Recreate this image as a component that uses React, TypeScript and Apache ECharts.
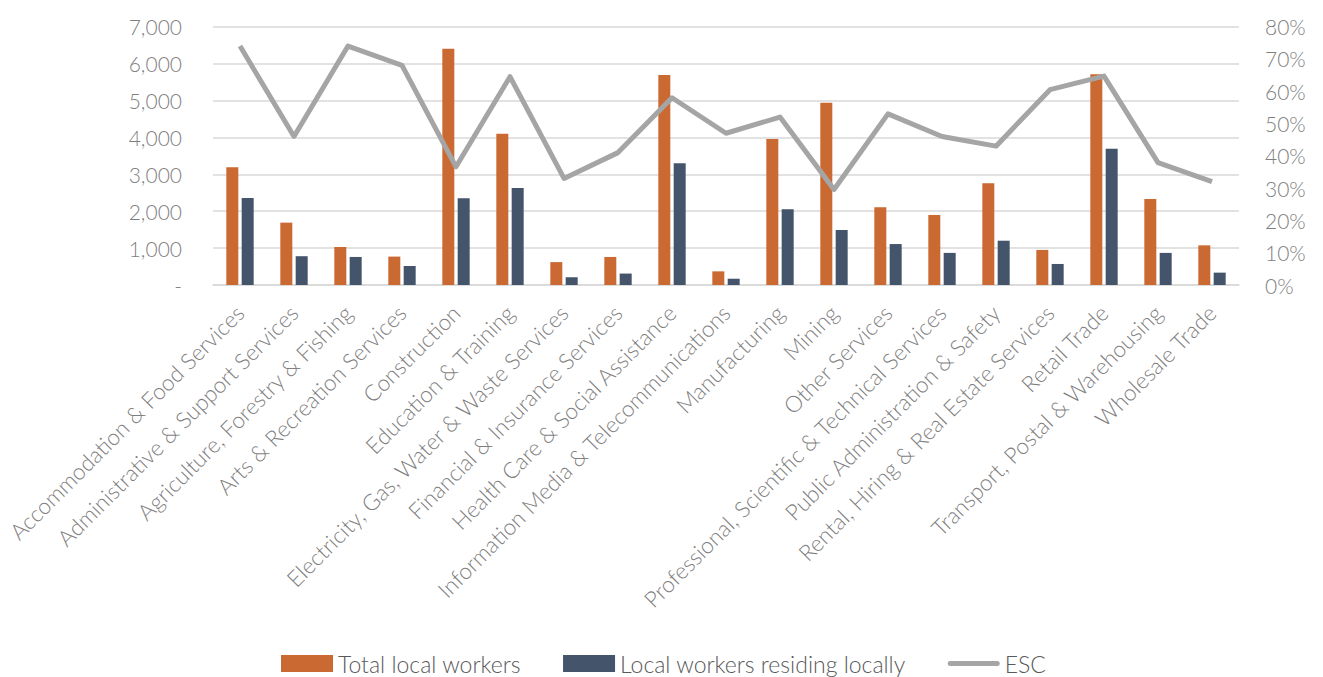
import React, { useEffect, useRef } from "react";
import * as echarts from "echarts";

const categories = [
  "Accommodation & Food Services",
  "Administrative & Support Services",
  "Agriculture, Forestry & Fishing",
  "Arts & Recreation Services",
  "Construction",
  "Education & Training",
  "Electricity, Gas, Water & Waste Services",
  "Financial & Insurance Services",
  "Health Care & Social Assistance",
  "Information Media & Telecommunications",
  "Manufacturing",
  "Mining",
  "Other Services",
  "Professional, Scientific & Technical Services",
  "Public Administration & Safety",
  "Rental, Hiring & Real Estate Services",
  "Retail Trade",
  "Transport, Postal & Warehousing",
  "Wholesale Trade",
];

const totalLocalWorkers = [3190, 1690, 1030, 770, 6400, 4100, 620, 760, 5690, 370, 3960, 4940, 2110, 1900, 2760, 950, 5710, 2330, 1075];
const localResiding = [2360, 780, 760, 515, 2350, 2630, 210, 310, 3300, 170, 2050, 1490, 1110, 870, 1200, 570, 3690, 870, 335];
const esc = [0.74, 0.46, 0.74, 0.68, 0.366, 0.645, 0.33, 0.41, 0.58, 0.47, 0.52, 0.296, 0.53, 0.46, 0.43, 0.605, 0.647, 0.379, 0.32];

const FONT = "Lato";
const LINE_ICON =
  "path://M0,0 L0,0 M52,17 L52,17 M2.5,6 L49.5,6 A2.5,2.5 0 0 1 49.5,11 L2.5,11 A2.5,2.5 0 0 1 2.5,6 Z";

export default function App() {
  const ref = useRef<HTMLDivElement>(null);
  useEffect(() => {
    if (!ref.current) return;
    const chart = echarts.init(ref.current, undefined, { renderer: "svg" });
    chart.setOption({
      animation: false,
      textStyle: { fontFamily: FONT, fontWeight: 300 },
      grid: { left: 213, right: 84, top: 26.7, bottom: 392, containLabel: false },
      legend: {
        top: 652,
        left: 281,
        itemWidth: 52,
        itemHeight: 17,
        itemGap: 42,
        padding: 0,
        textStyle: { fontSize: 23, lineHeight: 23, color: "#595959", fontFamily: FONT, fontWeight: 300 },
        data: [
          { name: "Total local workers", icon: "rect" },
          { name: "Local workers residing locally", icon: "rect" },
          { name: "ESC", icon: LINE_ICON, itemStyle: { color: "#a5a5a5" } },
        ],
      },
      xAxis: {
        type: "category",
        data: categories,
        axisLine: { lineStyle: { color: "#d9d9d9", width: 1.5 } },
        axisTick: { show: false },
        axisLabel: {
          rotate: 45,
          interval: 0,
          margin: 24,
          fontSize: 22.5,
          color: "#7f7f7f",
          fontFamily: FONT,
          fontWeight: 300,
        },
      },
      yAxis: [
        {
          type: "value",
          min: 0,
          max: 7000,
          interval: 1000,
          axisLine: { show: false },
          axisTick: { show: false },
          splitLine: { lineStyle: { color: "#d9d9d9", width: 1.5 } },
          axisLabel: {
            margin: 31,
            fontSize: 21,
            color: "#7f7f7f",
            fontFamily: FONT,
            fontWeight: 300,
            formatter: (v: number) => (v === 0 ? "-" : v.toLocaleString("en-US")),
          },
        },
        {
          type: "value",
          min: 0,
          max: 0.8,
          interval: 0.1,
          axisLine: { show: false },
          axisTick: { show: false },
          splitLine: { show: false },
          axisLabel: {
            margin: 26,
            fontSize: 21,
            color: "#7f7f7f",
            fontFamily: FONT,
            fontWeight: 300,
            formatter: (v: number) => Math.round(v * 100) + "%",
          },
        },
      ],
      series: [
        {
          name: "Total local workers",
          type: "bar",
          data: totalLocalWorkers,
          barWidth: 12,
          barGap: "28%",
          itemStyle: { color: "#cb6932" },
        },
        {
          name: "Local workers residing locally",
          type: "bar",
          data: localResiding,
          barWidth: 12,
          barGap: "28%",
          itemStyle: { color: "#44546a" },
        },
        {
          name: "ESC",
          type: "line",
          yAxisIndex: 1,
          data: esc,
          symbol: "none",
          lineStyle: { color: "#a5a5a5", width: 5, join: "round" },
          itemStyle: { color: "#a5a5a5" },
          z: 3,
        },
      ],
    });
    return () => chart.dispose();
  }, []);
  return (
    <div
      ref={ref}
      style={{ position: "fixed", left: 0, top: 0, width: 1323, height: 677, background: "#ffffff" }}
    />
  );
}
